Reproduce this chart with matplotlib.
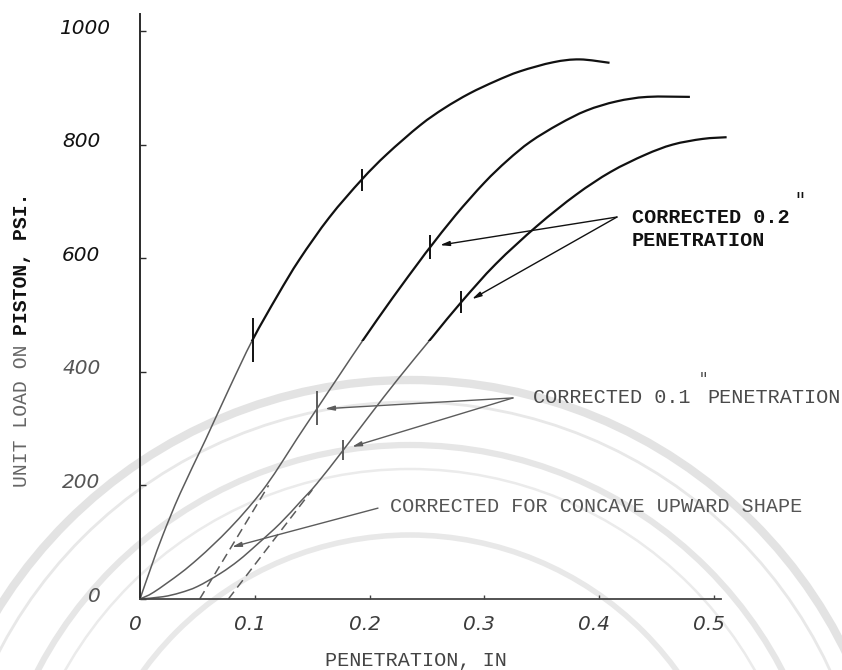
import matplotlib
matplotlib.use("Agg")
import matplotlib.pyplot as plt
from matplotlib.patches import Circle, Rectangle, PathPatch
from matplotlib.path import Path
from matplotlib.transforms import ScaledTranslation

# ---- load-penetration data (penetration in inches, unit load in psi) ----
pen_a = [0.0, 0.01, 0.02, 0.035, 0.057, 0.078, 0.098, 0.12, 0.139, 0.165,
         0.193, 0.215, 0.244, 0.265, 0.287, 0.31, 0.331, 0.36, 0.383, 0.409]
load_a = [0, 58, 113, 186, 280, 372, 456, 535, 598, 672,
          738, 783, 834, 864, 890, 912, 929, 945, 950, 944]

pen_b = [0.0, 0.012, 0.035, 0.05, 0.064, 0.078, 0.095, 0.11, 0.124, 0.137,
         0.1545, 0.175, 0.194, 0.22, 0.244, 0.253, 0.275, 0.3, 0.32, 0.34,
         0.365, 0.389, 0.415, 0.442, 0.479]
load_b = [0, 12, 45, 70, 96, 124, 162, 200, 242, 283,
          336, 398, 455, 530, 596, 620, 676, 733, 772, 805,
          836, 860, 876, 884, 884]

pen_c = [0.0, 0.02, 0.035, 0.05, 0.07, 0.086, 0.102, 0.122, 0.14, 0.154,
         0.177, 0.2, 0.225, 0.255, 0.28, 0.31, 0.346, 0.38, 0.41, 0.44,
         0.464, 0.49, 0.511]
load_c = [0, 4, 11, 22, 45, 68, 96, 133, 172, 203,
          262, 323, 388, 462, 523, 590, 657, 712, 752, 782,
          800, 810, 813]

# corrected straight-line portions (shifted zero)
corr1_pen = [0.052, 0.112]
corr1_load = [0, 200]
corr2_pen = [0.077, 0.150]
corr2_load = [0, 192]

# marks at the corrected 0.1" and 0.2" penetrations
mark_pen = [0.098, 0.193, 0.1545, 0.253, 0.177, 0.28]
mark_load = [456, 738, 336, 620, 262, 523]
mark_len = [44, 22, 34, 24, 20, 22]          # marker lengths in px

x_ticks = [0, 0.1, 0.2, 0.3, 0.4, 0.5]
x_tick_labels = ["0", "0.1", "0.2", "0.3", "0.4", "0.5"]
y_ticks = [0, 200, 400, 600, 800, 1000]
y_tick_labels = ["0", "200", "400", "600", "800", "1000"]

INK = "#111111"
GREY = "#5c5c5c"
SPLIT = 455          # above this load the print is darker
MONO = "Liberation Mono"

W, H, DPI = 842, 670, 100
fig = plt.figure(figsize=(W / DPI, H / DPI), dpi=DPI)
fig.patch.set_facecolor("white")

# faint seal in the background of the page
bg = fig.add_axes([0, 0, 1, 1])
bg.set_xlim(0, W)
bg.set_ylim(H, 0)
bg.axis("off")
bg.set_zorder(0)
for r, lw, col in [(485, 6.0, "#e3e3e3"), (463, 2.0, "#e8e8e8"),
                   (420, 4.5, "#e6e6e6"), (396, 1.8, "#ebebeb"),
                   (330, 4.0, "#e8e8e8")]:
    bg.add_patch(Circle((410, 865), r, fill=False, lw=lw, ec=col))

# main axes: x 0..0.515 over px 140..731, y 0..1030 over px 599..14
left = 140 / W
bottom = (H - 599) / H
ax = fig.add_axes([left, bottom, 0.515 * 1148 / W, 1030 * 0.568 / H])
ax.set_zorder(1)
ax.patch.set_alpha(0)
ax.set_xlim(0, 0.515)
ax.set_ylim(0, 1030)

for s in ("top", "right"):
    ax.spines[s].set_visible(False)
ax.spines["left"].set_color("#2a2a2a")
ax.spines["left"].set_linewidth(1.4)
ax.spines["left"].set_bounds(0, 1030)
ax.spines["bottom"].set_color("#444444")
ax.spines["bottom"].set_linewidth(1.3)
ax.spines["bottom"].set_bounds(0, 0.506)


def smooth_path(x, y):
    """Cubic Bezier path passing through every (x, y) point (Catmull-Rom)."""
    pts = list(zip(x, y))
    n = len(pts)
    verts = [pts[0]]
    codes = [Path.MOVETO]
    for i in range(n - 1):
        p0 = pts[max(i - 1, 0)]
        p1 = pts[i]
        p2 = pts[i + 1]
        p3 = pts[min(i + 2, n - 1)]
        c1 = (p1[0] + (p2[0] - p0[0]) / 6, p1[1] + (p2[1] - p0[1]) / 6)
        c2 = (p2[0] - (p3[0] - p1[0]) / 6, p2[1] - (p3[1] - p1[1]) / 6)
        verts += [c1, c2, p2]
        codes += [Path.CURVE4] * 3
    return Path(verts, codes)


def two_tone(x, y, lw_top=1.6, lw_low=1.1):
    path = smooth_path(x, y)
    top = PathPatch(path, fill=False, ec=INK, lw=lw_top,
                    transform=ax.transData)
    ax.add_patch(top)
    top.set_clip_path(Rectangle((-1, SPLIT), 3, 5000, transform=ax.transData))
    low = PathPatch(path, fill=False, ec=GREY, lw=lw_low,
                    transform=ax.transData)
    ax.add_patch(low)
    low.set_clip_path(Rectangle((-1, -5000), 3, 5000 + SPLIT,
                                transform=ax.transData))


two_tone(pen_a, load_a)
two_tone(pen_b, load_b)
two_tone(pen_c, load_c)

ax.plot(corr1_pen, corr1_load, color=GREY, lw=1.1, ls=(0, (6, 3.5)),
        clip_on=False)
ax.plot(corr2_pen, corr2_load, color=GREY, lw=1.1, ls=(0, (6, 3.5)),
        clip_on=False)

for xp, yp, ln in zip(mark_pen, mark_load, mark_len):
    col = INK if yp > SPLIT else GREY
    ax.plot([xp], [yp], marker="|", ms=ln * 0.72, mew=1.4, color=col,
            clip_on=False)

# ticks
ax.set_xticks(x_ticks)
ax.set_xticklabels(x_tick_labels)
ax.set_yticks(y_ticks)
ax.set_yticklabels(y_tick_labels)
ax.tick_params(axis="x", direction="in", length=3, width=1.0, color="#444444",
               pad=11.5)
ax.tick_params(axis="y", direction="in", length=4.3, width=1.0,
               color="#2a2a2a", pad=28.5)
for lab in ax.get_xticklabels():
    lab.set_fontfamily("DejaVu Sans")
    lab.set_fontstyle("italic")
    lab.set_fontsize(14.5)
    lab.set_color("#3c3c3c")
    lab.set_transform(lab.get_transform() +
                      ScaledTranslation(-5 / DPI, 0, fig.dpi_scale_trans))
for lab, v in zip(ax.get_yticklabels(), y_ticks):
    lab.set_fontfamily("DejaVu Sans")
    lab.set_fontstyle("italic")
    lab.set_fontsize(14.5)
    lab.set_color("#111111" if v > SPLIT else "#555555")
    dx = 10 if v == 1000 else 0
    lab.set_transform(lab.get_transform() +
                      ScaledTranslation(dx / DPI, 5 / DPI, fig.dpi_scale_trans))

# annotations
arrow_dark = dict(arrowstyle="-|>,head_length=0.55,head_width=0.14",
                  lw=1.0, color=INK, shrinkA=0, shrinkB=0)
arrow_grey = dict(arrowstyle="-|>,head_length=0.55,head_width=0.14",
                  lw=1.0, color=GREY, shrinkA=0, shrinkB=0)

ax.text(0.4286, 672.5, "CORRECTED 0.2", family=MONO, fontsize=14.5,
        weight="bold", color=INK, ha="left", va="center")
ax.text(0.5700, 702, '"', family=MONO, fontsize=13, color=INK,
        ha="left", va="center")
ax.text(0.4286, 632, "PENETRATION", family=MONO, fontsize=14.5,
        weight="bold", color=INK, ha="left", va="center")
ax.annotate("", xy=(0.2613, 623), xytext=(0.4155, 672.5),
            arrowprops=arrow_dark, annotation_clip=False)
ax.annotate("", xy=(0.2892, 528), xytext=(0.4155, 672.5),
            arrowprops=arrow_dark, annotation_clip=False)

ax.text(0.3423, 355.6, "CORRECTED 0.1", family=MONO, fontsize=14.5,
        color="#4a4a4a", ha="left", va="center")
ax.text(0.4870, 388, '"', family=MONO, fontsize=11, color="#4a4a4a",
        ha="left", va="center")
ax.text(0.4939, 355.6, "PENETRATION", family=MONO, fontsize=14.5,
        color="#4a4a4a", ha="left", va="center")
ax.annotate("", xy=(0.1611, 335), xytext=(0.3249, 354),
            arrowprops=arrow_grey, annotation_clip=False)
ax.annotate("", xy=(0.1847, 268), xytext=(0.3249, 354),
            arrowprops=arrow_grey, annotation_clip=False)

ax.text(0.2178, 163.7, "CORRECTED FOR CONCAVE UPWARD SHAPE", family=MONO,
        fontsize=14.5, color="#555555", ha="left", va="center")
ax.annotate("", xy=(0.0801, 91.5), xytext=(0.2073, 160),
            arrowprops=arrow_grey, annotation_clip=False)

# axis titles
fig.text(416 / W, 1 - 660 / H, "PENETRATION, IN", family=MONO, fontsize=14.5,
         color="#444444", ha="center", va="center")
fig.text(22 / W, 1 - 487 / H, "UNIT LOAD ON", family=MONO, fontsize=14.2,
         color="#666666", rotation=90, ha="center", va="bottom")
fig.text(22 / W, 1 - 192 / H, "PISTON, PSI.", family=MONO, fontsize=14.2,
         weight="bold", color=INK, rotation=90, ha="center", va="top")

fig.savefig("out.png", dpi=DPI, facecolor="white")
